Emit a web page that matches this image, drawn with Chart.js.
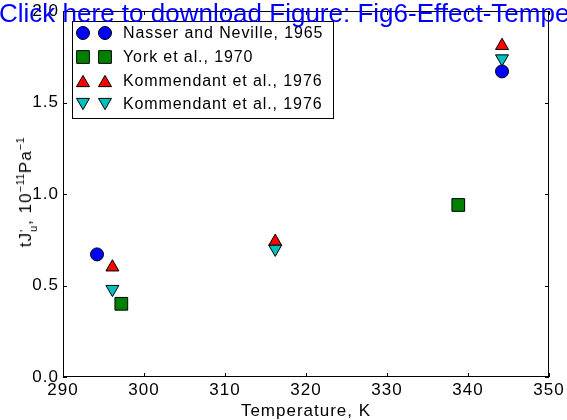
<!DOCTYPE html>
<html>
<head>
<meta charset="utf-8">
<script src="https://cdn.jsdelivr.net/npm/chart.js@4"></script>
<style>
  html, body { margin: 0; padding: 0; background: #fff; }
  #wrap { position: relative; width: 567px; height: 420px; overflow: hidden; }
  #link {
    position: absolute; left: -1px; top: -2px; white-space: nowrap;
    font: 26px "Liberation Sans", Arial, sans-serif; color: #0000ff; z-index: 2;
  }
  #ylab {
    position: absolute; left: 26px; top: 192px; white-space: nowrap;
    transform: translate(-50%, -50%) rotate(-90deg);
    font: 17px "Liberation Sans", Arial, sans-serif; letter-spacing: 1px; color: #000;
  }
  #ylab sup { font-size: 11px; vertical-align: 7px; letter-spacing: 0.5px; }
  .stk { display: inline-block; vertical-align: -6px; line-height: 9px; font-size: 11px; text-align: left; }
</style>
</head>
<body>
<div id="wrap">
  <canvas id="chart" width="567" height="420"></canvas>
  <div id="ylab">tJ<span class="stk">'<br>u</span>, 10<sup>−11</sup>Pa<sup>−1</sup></div>
  <div id="link">Click here to download Figure: Fig6-Effect-Tempe</div>
</div>
<script>
// values (temperature K, compliance 10^-11 Pa^-1)
const nasserT = [294.2, 344.2];
const nasserJ = [0.67, 1.67];
const yorkT = [297.2, 338.8];
const yorkJ = [0.40, 0.94];
const kommUpT = [296.1, 316.2, 344.2];
const kommUpJ = [0.60, 0.74, 1.81];
const kommDownT = [296.1, 316.2, 344.2];
const kommDownJ = [0.48, 0.70, 1.74];

const xTicks = [290, 300, 310, 320, 330, 340, 350];
const yTicks = [0.0, 0.5, 1.0, 1.5, 2.0];

const labels = ['Nasser and Neville, 1965', 'York et al., 1970', 'Kommendant et al., 1976', 'Kommendant et al., 1976'];

const pts = (xs, ys) => xs.map((x, i) => ({ x: x, y: ys[i] }));
const FONT = '"Liberation Sans", Arial, sans-serif';

const styles = [
  { pointStyle: 'circle', backgroundColor: '#0000ff', radius: 6.5, rotation: 0 },
  { pointStyle: 'rect', backgroundColor: '#008000', radius: 9, rotation: 0 },
  { pointStyle: 'triangle', backgroundColor: '#ff0000', radius: 7.5, rotation: 0 },
  { pointStyle: 'triangle', backgroundColor: '#00bfbf', radius: 7.5, rotation: 180 }
];
const series = [pts(nasserT, nasserJ), pts(yorkT, yorkJ), pts(kommUpT, kommUpJ), pts(kommDownT, kommDownJ)];

function marker(ctx, s, x, y) {
  ctx.save();
  ctx.fillStyle = s.backgroundColor;
  ctx.strokeStyle = '#000';
  ctx.lineWidth = 1;
  ctx.beginPath();
  if (s.pointStyle === 'circle') {
    ctx.arc(x, y, s.radius, 0, Math.PI * 2);
  } else if (s.pointStyle === 'rect') {
    const h = s.radius * Math.SQRT1_2;
    ctx.rect(x - h, y - h, 2 * h, 2 * h);
  } else {
    const r = s.radius, w = r * Math.sqrt(3) / 2;
    const d = s.rotation ? -1 : 1;
    ctx.moveTo(x, y - d * r * 0.75);
    ctx.lineTo(x + w, y + d * r * 0.75);
    ctx.lineTo(x - w, y + d * r * 0.75);
    ctx.closePath();
  }
  ctx.fill();
  ctx.stroke();
  ctx.restore();
}

const frame = {
  id: 'frame',
  beforeDraw(chart) { chart.ctx.letterSpacing = '1px'; },
  afterDatasetsDraw(chart) {
    const { ctx, chartArea: a, scales } = chart;
    ctx.save();
    ctx.strokeStyle = '#000';
    ctx.lineWidth = 1;
    ctx.strokeRect(a.left + 0.5, a.top + 0.5, a.right - a.left - 1, a.bottom - a.top - 1);
    ctx.beginPath();
    xTicks.forEach(v => {
      const px = Math.round(scales.x.getPixelForValue(v)) + 0.5;
      ctx.moveTo(px, a.bottom); ctx.lineTo(px, a.bottom - 4);
      ctx.moveTo(px, a.top); ctx.lineTo(px, a.top + 4);
    });
    yTicks.forEach(v => {
      const py = Math.round(scales.y.getPixelForValue(v)) + 0.5;
      ctx.moveTo(a.left, py); ctx.lineTo(a.left + 4, py);
      ctx.moveTo(a.right, py); ctx.lineTo(a.right - 4, py);
    });
    ctx.stroke();
    ctx.restore();
  },
  afterDraw(chart) {
    const ctx = chart.ctx;
    ctx.save();
    ctx.fillStyle = '#fff';
    ctx.strokeStyle = '#000';
    ctx.lineWidth = 1;
    ctx.fillRect(72, 21, 261, 97);
    ctx.strokeRect(72.5, 21.5, 261, 97);
    ctx.font = '16px ' + FONT;
    ctx.letterSpacing = '0.9px';
    ctx.fillStyle = '#000';
    ctx.textBaseline = 'middle';
    const rows = [33, 57, 81, 104];
    styles.forEach((s, i) => {
      marker(ctx, s, 83, rows[i]);
      marker(ctx, s, 105, rows[i]);
      ctx.fillText(labels[i], 123, rows[i] + 1);
    });
    ctx.restore();
  }
};

new Chart(document.getElementById('chart'), {
  type: 'scatter',
  data: {
    datasets: series.map((d, i) => ({
      label: labels[i],
      data: d,
      pointStyle: styles[i].pointStyle,
      pointRadius: styles[i].radius,
      pointHoverRadius: styles[i].radius,
      pointRotation: styles[i].rotation,
      backgroundColor: styles[i].backgroundColor,
      borderColor: '#000',
      borderWidth: 1,
      order: 4 - i
    }))
  },
  options: {
    responsive: false,
    animation: false,
    events: [],
    layout: { padding: { top: 11, right: 18, left: 0, bottom: 0 } },
    plugins: { legend: { display: false }, tooltip: { enabled: false } },
    scales: {
      x: {
        type: 'linear', min: 290, max: 350,
        afterFit: s => { s.height = 43; },
        afterBuildTicks: s => { s.ticks = xTicks.map(v => ({ value: v })); },
        grid: { display: false },
        border: { display: false },
        ticks: { color: '#000', padding: -5, font: { family: FONT, size: 17 }, maxRotation: 0 },
        title: { display: true, text: 'Temperature, K', color: '#000', font: { family: FONT, size: 17 }, padding: { top: 0, bottom: -2 } }
      },
      y: {
        type: 'linear', min: 0, max: 2,
        afterFit: s => { s.width = 63; },
        afterBuildTicks: s => { s.ticks = yTicks.map(v => ({ value: v })); },
        grid: { display: false },
        border: { display: false },
        ticks: { color: '#000', padding: -4, font: { family: FONT, size: 17 }, callback: v => v.toFixed(1) }
      }
    }
  },
  plugins: [frame]
});
</script>
</body>
</html>
